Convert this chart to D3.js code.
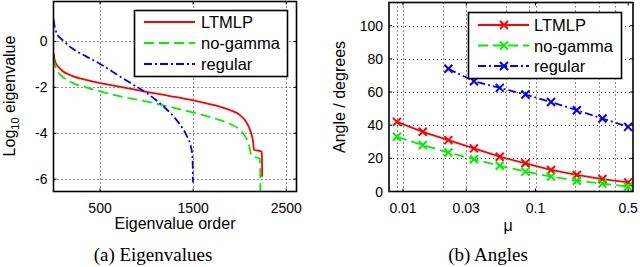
<!DOCTYPE html>
<html>
<head>
<meta charset="utf-8">
<script src="https://cdn.jsdelivr.net/npm/d3@7"></script>
<style>
  body { margin: 0; background: #fff; }
  svg { display: block; }
  text { font-family: "Liberation Sans", Arial, sans-serif; fill: #000; }
  .caption { font-family: "Liberation Serif", "Times New Roman", serif; }
</style>
</head>
<body>
<svg id="chart"></svg>
<script>
// (a) eigenvalue spectra, [order, log10 eigenvalue]
var ltmlpEig = [[1, -0.5], [10, -0.75], [25, -0.95], [50, -1.1], [100, -1.3], [200, -1.5],
    [350, -1.68], [500, -1.82], [750, -2.0], [1000, -2.2], [1250, -2.38], [1500, -2.57],
    [1750, -2.8], [1900, -3.0], [2000, -3.2], [2060, -3.45], [2100, -3.75], [2130, -4.1],
    [2145, -4.4], [2152, -4.72], [2200, -4.76], [2235, -4.8], [2239, -5.0], [2241, -5.9]];
var noGammaEig = [[1, -0.73], [10, -0.95], [25, -1.15], [50, -1.35], [100, -1.55], [200, -1.8],
    [350, -2.0], [500, -2.18], [750, -2.42], [1000, -2.62], [1250, -2.85], [1500, -3.1],
    [1750, -3.38], [1900, -3.6], [2000, -3.85], [2060, -4.15], [2100, -4.5], [2120, -4.9],
    [2135, -5.0], [2200, -5.08], [2215, -5.1], [2220, -5.6], [2222, -6.7]];
var regularEig = [[1, 0.95], [10, 0.7], [25, 0.45], [50, 0.25], [100, 0.05], [200, -0.3],
    [350, -0.65], [500, -0.98], [750, -1.62], [1000, -2.25], [1100, -2.55], [1200, -2.9],
    [1300, -3.32], [1380, -3.75], [1430, -4.1], [1470, -4.5], [1490, -4.9], [1496, -5.5],
    [1498, -6.15]];

// (b) angles vs mu
var mu = [0.009, 0.0141, 0.022, 0.0343, 0.0537, 0.0839, 0.131, 0.205, 0.32, 0.5];
var ltmlpAngle = [42, 36, 31, 26, 21, 17, 13, 10, 7.5, 5.5];
var noGammaAngle = [33, 28, 23.5, 19.5, 15.5, 12, 9, 6.5, 4.8, 3];
var regularAngle = [null, null, 74, 66.5, 62.5, 58.5, 54, 49, 44, 39];

var eigTicksX = [500, 1500, 2500],
    eigTicksY = [0, -2, -4, -6],
    angleTicksX = [0.01, 0.03, 0.1, 0.5],
    angleTicksY = [0, 20, 40, 60, 80, 100],
    angleGridX = [0.009, 0.01, 0.02, 0.03, 0.06, 0.09, 0.1, 0.2, 0.3, 0.4];

var legendNames = ["LTMLP", "no-gamma", "regular"],
    colors = ["#ff0000", "#00f000", "#0000ff"],
    dashes = [null, "10,5", "8,3,2,3"];

var width = 640, height = 267;

var svg = d3.select("#chart")
    .attr("width", width)
    .attr("height", height);

svg.append("rect").attr("width", width).attr("height", height).attr("fill", "#fff");

// scales
var xEig = d3.scaleLinear().domain([0, 2610]).range([53.5, 296.5]);
var yEig = d3.scaleLinear().domain([-6.54, 1.74]).range([191.5, 1.5]);
var xAng = d3.scaleLog().domain([0.00784, 0.544]).range([389, 633]);
var yAng = d3.scaleLinear().domain([0, 114]).range([191.5, 2.5]);

function gridLines(g, x, y, xs, ys) {
    var x0 = x.range()[0], x1 = x.range()[1],
        y0 = y.range()[0], y1 = y.range()[1];
    g.selectAll(".gx").data(xs).enter().append("line")
        .attr("x1", function (d) { return Math.round(x(d)) + 0.5; })
        .attr("x2", function (d) { return Math.round(x(d)) + 0.5; })
        .attr("y1", y0).attr("y2", y1)
        .attr("stroke", "#222").attr("stroke-width", 1)
        .attr("stroke-dasharray", "1,3");
    g.selectAll(".gy").data(ys).enter().append("line")
        .attr("y1", function (d) { return Math.round(y(d)) + 0.5; })
        .attr("y2", function (d) { return Math.round(y(d)) + 0.5; })
        .attr("x1", x0).attr("x2", x1)
        .attr("stroke", "#222").attr("stroke-width", 1)
        .attr("stroke-dasharray", "1,3");
}

function frame(g, x, y, xs, ys, xFormat) {
    var x0 = x.range()[0], x1 = x.range()[1],
        y0 = y.range()[0], y1 = y.range()[1];
    // inward ticks on all four sides
    xs.forEach(function (d) {
        g.append("line").attr("x1", x(d)).attr("x2", x(d)).attr("y1", y0).attr("y2", y0 - 3)
            .attr("stroke", "#000");
        g.append("line").attr("x1", x(d)).attr("x2", x(d)).attr("y1", y1).attr("y2", y1 + 3)
            .attr("stroke", "#000");
    });
    ys.forEach(function (d) {
        g.append("line").attr("y1", y(d)).attr("y2", y(d)).attr("x1", x0).attr("x2", x0 + 3)
            .attr("stroke", "#000");
        g.append("line").attr("y1", y(d)).attr("y2", y(d)).attr("x1", x1).attr("x2", x1 - 3)
            .attr("stroke", "#000");
    });
    g.append("rect")
        .attr("x", x0).attr("y", y1)
        .attr("width", x1 - x0).attr("height", y0 - y1)
        .attr("fill", "none").attr("stroke", "#000").attr("stroke-width", 1.6);

    g.selectAll(".tx").data(xs).enter().append("text")
        .attr("x", function (d) { return x(d); })
        .attr("y", 213)
        .attr("text-anchor", "middle")
        .attr("font-size", 14)
        .text(xFormat);
    g.selectAll(".ty").data(ys).enter().append("text")
        .attr("x", x0 - 6)
        .attr("y", function (d) { return y(d) + 5; })
        .attr("text-anchor", "end")
        .attr("font-size", 14)
        .text(function (d) { return d < 0 ? "-" + (-d) : d; });
}

// ---------- (a) Eigenvalues ----------
var ga = svg.append("g");
gridLines(ga, xEig, yEig, eigTicksX, eigTicksY);

svg.append("clipPath").attr("id", "clipA").append("rect")
    .attr("x", 53.5).attr("y", 1.5).attr("width", 243).attr("height", 190);

var eigLine = d3.line()
    .x(function (d) { return xEig(d[0]); })
    .y(function (d) { return yEig(d[1]); })
    .curve(d3.curveMonotoneX);

var eigSeries = [ltmlpEig, noGammaEig, regularEig];
ga.append("g").attr("clip-path", "url(#clipA)")
    .selectAll("path").data(eigSeries).enter().append("path")
    .attr("d", eigLine)
    .attr("fill", "none")
    .attr("stroke", function (d, i) { return colors[i]; })
    .attr("stroke-width", 1.8)
    .attr("stroke-dasharray", function (d, i) { return dashes[i]; });

frame(ga, xEig, yEig, eigTicksX, eigTicksY, function (d) { return d; });

// legend (a)
var legA = ga.append("g");
legA.append("rect").attr("x", 134.5).attr("y", 10.5).attr("width", 153).attr("height", 66)
    .attr("fill", "#fff").attr("stroke", "#000").attr("stroke-width", 1.6);
legendNames.forEach(function (name, i) {
    var ly = 22 + i * 21;
    legA.append("line").attr("x1", 144).attr("x2", 195).attr("y1", ly).attr("y2", ly)
        .attr("stroke", colors[i]).attr("stroke-width", 1.8)
        .attr("stroke-dasharray", dashes[i]);
    legA.append("text").attr("x", 201).attr("y", ly + 6).attr("font-size", 16.5).text(name);
});

ga.append("text").attr("x", 175).attr("y", 228.5).attr("text-anchor", "middle")
    .attr("font-size", 16).text("Eigenvalue order");

var ylabA = ga.append("text")
    .attr("transform", "translate(15,96) rotate(-90)")
    .attr("text-anchor", "middle")
    .attr("font-size", 16);
ylabA.append("tspan").text("Log");
ylabA.append("tspan").attr("font-size", 11).attr("dy", 4).text("10");
ylabA.append("tspan").attr("dy", -4).text(" eigenvalue");

ga.append("text").attr("class", "caption").attr("x", 153).attr("y", 261)
    .attr("text-anchor", "middle").attr("font-size", 19).text("(a)  Eigenvalues");

// ---------- (b) Angles ----------
var gb = svg.append("g");
gridLines(gb, xAng, yAng, angleGridX, angleTicksY.slice(1));

var angSeries = [ltmlpAngle, noGammaAngle, regularAngle].map(function (vals) {
    return vals.map(function (v, i) { return [mu[i], v]; })
        .filter(function (d) { return d[1] != null; });
});

var angLine = d3.line()
    .x(function (d) { return xAng(d[0]); })
    .y(function (d) { return yAng(d[1]); });

function cross(sel, size) {
    sel.append("path")
        .attr("d", "M" + (-size) + "," + (-size) + "L" + size + "," + size +
            "M" + (-size) + "," + size + "L" + size + "," + (-size))
        .attr("stroke-width", 2)
        .attr("fill", "none");
}

angSeries.forEach(function (pts, i) {
    gb.append("path")
        .attr("d", angLine(pts))
        .attr("fill", "none")
        .attr("stroke", colors[i])
        .attr("stroke-width", 1.8)
        .attr("stroke-dasharray", dashes[i]);
    var m = gb.append("g").attr("stroke", colors[i])
        .selectAll("g").data(pts).enter().append("g")
        .attr("transform", function (d) { return "translate(" + xAng(d[0]) + "," + yAng(d[1]) + ")"; });
    cross(m, 4);
});

frame(gb, xAng, yAng, angleTicksX, angleTicksY, function (d) { return d; });

// legend (b)
var legB = gb.append("g");
legB.append("rect").attr("x", 468.5).attr("y", 12.5).attr("width", 153).attr("height", 66)
    .attr("fill", "#fff").attr("stroke", "#000").attr("stroke-width", 1.6);
legendNames.forEach(function (name, i) {
    var ly = 25 + i * 20.5;
    legB.append("line").attr("x1", 478).attr("x2", 529).attr("y1", ly).attr("y2", ly)
        .attr("stroke", colors[i]).attr("stroke-width", 1.8)
        .attr("stroke-dasharray", dashes[i]);
    var mk = legB.append("g").attr("stroke", colors[i])
        .attr("transform", "translate(504," + ly + ")");
    cross(mk, 4);
    legB.append("text").attr("x", 534).attr("y", ly + 6).attr("font-size", 16.5).text(name);
});

gb.append("text").attr("x", 508).attr("y", 231).attr("text-anchor", "middle")
    .attr("font-size", 16).text("μ");

gb.append("text")
    .attr("transform", "translate(345,97) rotate(-90)")
    .attr("text-anchor", "middle")
    .attr("font-size", 16)
    .text("Angle / degrees");

gb.append("text").attr("class", "caption").attr("x", 488).attr("y", 261)
    .attr("text-anchor", "middle").attr("font-size", 19).text("(b)  Angles");
</script>
</body>
</html>
